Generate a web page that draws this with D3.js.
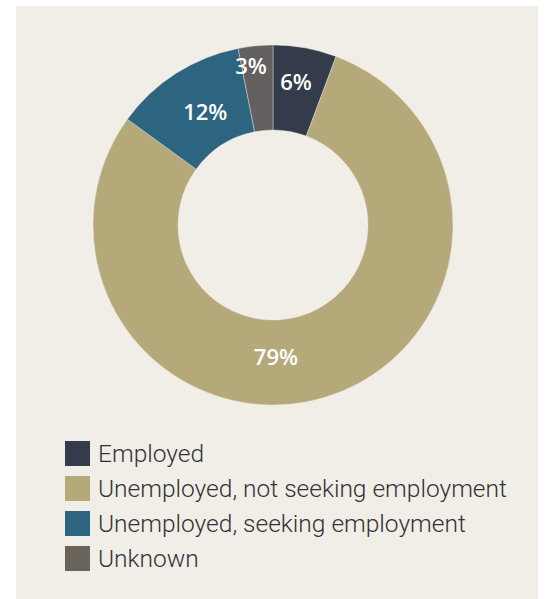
<!DOCTYPE html>
<html><head><meta charset="utf-8">
<script src="https://cdn.jsdelivr.net/npm/d3@7"></script>
<style>
html,body{margin:0;padding:0;background:#fff;}
svg{display:block;}
</style></head>
<body>
<svg id="chart" width="546" height="599"></svg>
<script>
const categories = ["Employed", "Unemployed, not seeking employment", "Unemployed, seeking employment", "Unknown"];
const values = [5.7, 79.3, 11.9, 3.1];
const labels = ["6%", "79%", "12%", "3%"];
const colors = ["#343c4b", "#b5a97a", "#2d6580", "#63605f"];
const legendColors = ["#343c4b", "#b5a97a", "#2d6580", "#6a635a"];

const svg = d3.select("#chart");
svg.append("rect").attr("x", 16).attr("y", 6).attr("width", 522).attr("height", 593).attr("fill", "#f1eee8");

const cx = 273, cy = 225, rOuter = 180, rInner = 95;
const g = svg.append("g").attr("transform", `translate(${cx},${cy})`);
const data = categories.map((c, i) => ({cat: c, value: values[i], label: labels[i], color: colors[i]}));
const pie = d3.pie().value(d => d.value).sort(null);
const arc = d3.arc().innerRadius(rInner).outerRadius(rOuter);
const arcs = pie(data);
g.selectAll("path").data(arcs).join("path")
  .attr("d", arc).attr("fill", d => d.data.color)
  .attr("stroke", "#f1eee8").attr("stroke-width", 0.4);

// label placement nudges (layout only): [angle offset, radius]
const labelLayout = {
  "Employed": [-0.02, 145],
  "Unemployed, not seeking employment": [0.27, 132],
  "Unemployed, seeking employment": [0.03, 132],
  "Unknown": [-0.04, 160]
};
g.selectAll("text.lbl").data(arcs).join("text").attr("class", "lbl")
  .attr("transform", d => {
    const [da, r] = labelLayout[d.data.cat];
    const a = (d.startAngle + d.endAngle) / 2 + da;
    return `translate(${r * Math.sin(a)},${-r * Math.cos(a)})`;
  })
  .attr("text-anchor", "middle").attr("dy", "0.36em")
  .attr("fill", "#fff").attr("font-family", "'Open Sans', sans-serif")
  .attr("font-weight", 600).attr("font-size", 22)
  .text(d => d.data.label);

// legend
const y = d3.scaleBand().domain(categories).range([441, 441 + 35 * categories.length]);
const rows = svg.append("g").selectAll("g").data(categories).join("g")
  .attr("transform", d => `translate(65,${y(d)})`);
rows.append("rect").attr("width", 25).attr("height", 25).attr("fill", (d, i) => legendColors[i]);
rows.append("text").attr("x", 33).attr("y", 12.5).attr("dy", "0.36em")
  .attr("font-family", "Roboto, sans-serif").attr("font-weight", 300)
  .attr("font-size", 24.5).attr("fill", "#333").text(d => d);
</script>
</body></html>
